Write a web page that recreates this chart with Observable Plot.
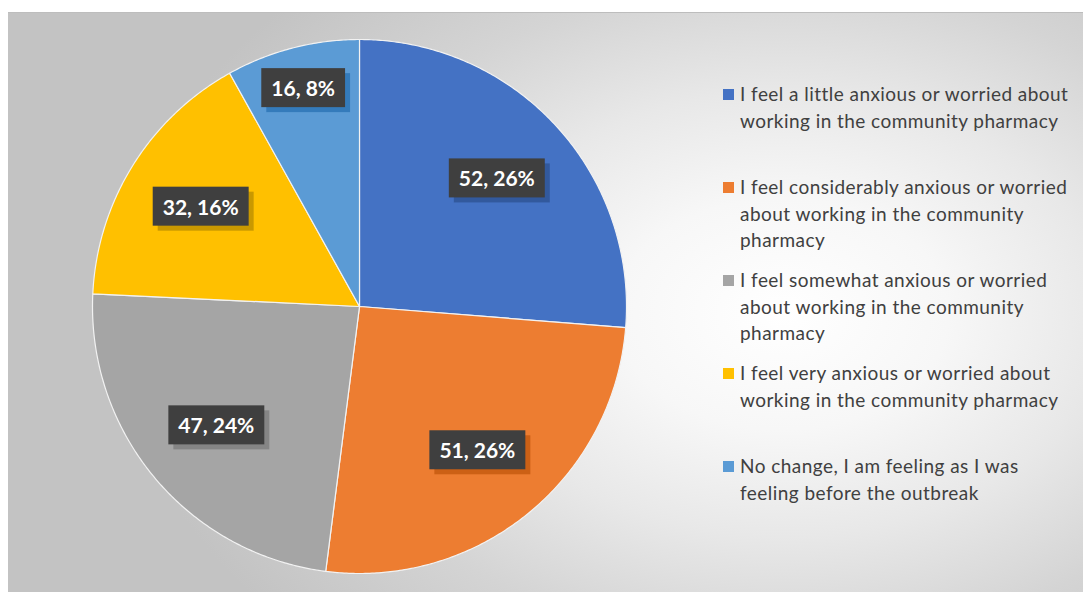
<!DOCTYPE html>
<html>
<head>
<meta charset="utf-8">
<script src="https://cdn.jsdelivr.net/npm/d3@7"></script>
<script src="https://cdn.jsdelivr.net/npm/@observablehq/plot@0.6"></script>
<style>
  html, body { margin: 0; padding: 0; background: #ffffff; }
  #wrap { position: relative; width: 1083px; height: 595px; overflow: hidden; }
  #bg { position: absolute; left: 8px; top: 12px; width: 1075px; height: 579px;
        background: radial-gradient(ellipse 62% 80% at 72% 52%, #ffffff 0%, #f7f7f7 25%, #e8e8e8 48%, #d4d4d4 72%, #c3c3c3 100%);
        border-top: 1px solid #bdbdbd; }
  #chart { position: absolute; left: 0; top: 0; }
  #legend { position: absolute; left: 723px; top: 0; font-family: Lato, "Open Sans", sans-serif;
        font-size: 19px; letter-spacing: 0.45px; color: #404040; }
  .item { position: absolute; left: 0; width: 360px; }
  .sw { position: absolute; left: 0; width: 11px; height: 11px; top: 8px; }
  .tx { position: absolute; left: 17px; line-height: 26.5px; white-space: nowrap; }
</style>
</head>
<body>
<div id="wrap">
  <div id="bg"></div>
  <div id="chart"></div>
  <div id="legend"></div>
</div>
<script>
const categories = [
  "I feel a little anxious or worried about working in the community pharmacy",
  "I feel considerably anxious or worried about working in the community pharmacy",
  "I feel somewhat anxious or worried about working in the community pharmacy",
  "I feel very anxious or worried about working in the community pharmacy",
  "No change, I am feeling as I was feeling before the outbreak"
];
const legendLines = [
  ["I feel a little anxious or worried about", "working in the community pharmacy"],
  ["I feel considerably anxious or worried", "about working in the community", "pharmacy"],
  ["I feel somewhat anxious or worried", "about working in the community", "pharmacy"],
  ["I feel very anxious or worried about", "working in the community pharmacy"],
  ["No change, I am feeling as I was", "feeling before the outbreak"]
];
const counts = [52, 51, 47, 32, 16];
const percentLabels = ["26%", "26%", "24%", "16%", "8%"];
const colors = ["#4472C4", "#ED7D31", "#A5A5A5", "#FFC000", "#5B9BD5"];
const shadowColors = ["#2f5597", "#c55a11", "#7f7f7f", "#bf9000", "#2e75b6"];

const total = d3.sum(counts);
// slice polygons (angles from 12 o'clock, clockwise) in unit-circle coordinates
const pts = [];
const labels = [];
let acc = 0;
counts.forEach((v, i) => {
  const a0 = acc / total * 2 * Math.PI;
  const a1 = (acc + v) / total * 2 * Math.PI;
  pts.push({cat: categories[i], x: 0, y: 0});
  const n = Math.max(2, Math.ceil((a1 - a0) / (Math.PI / 360)));
  for (let k = 0; k <= n; k++) {
    const a = a0 + (a1 - a0) * k / n;
    pts.push({cat: categories[i], x: Math.sin(a), y: Math.cos(a)});
  }
  const am = (a0 + a1) / 2;
  const lr = v / total < 0.1 ? 0.84 : 0.7;
  labels.push({i, x: lr * Math.sin(am), y: lr * Math.cos(am), text: `${v}, ${percentLabels[i]}`});
  acc += v;
});

const cx = 359, cy = 306, R = 267;
const plot = Plot.plot({
  width: 1083,
  height: 595,
  margin: 0,
  style: {background: "transparent", overflow: "visible"},
  x: {domain: [-1, 1], range: [cx - R, cx + R], axis: null},
  y: {domain: [-1, 1], range: [cy + R, cy - R], axis: null},
  color: {domain: categories, range: colors, legend: false},
  marks: [
    Plot.line(pts, {x: "x", y: "y", z: "cat", fill: "cat", stroke: "#f2f2f2", strokeWidth: 1.2, curve: "linear-closed"}),
    Plot.text(labels, {x: "x", y: "y", text: "text", fill: "white", fontWeight: "bold",
      fontSize: 21, fontFamily: "Lato, 'Open Sans', sans-serif", className: "pielabel"})
  ]
});
document.getElementById("chart").appendChild(plot);

// dark label boxes with drop shadow behind each label
const texts = plot.querySelectorAll(".pielabel text");
const ns = "http://www.w3.org/2000/svg";
texts.forEach((t, k) => {
  const bb = t.getBBox();
  const padX = 10, padY = 7;
  const g = t.parentNode;
  const sh = document.createElementNS(ns, "rect");
  sh.setAttribute("x", bb.x - padX + 5);
  sh.setAttribute("y", bb.y - padY + 5);
  sh.setAttribute("width", bb.width + 2 * padX);
  sh.setAttribute("height", bb.height + 2 * padY);
  sh.setAttribute("fill", shadowColors[labels[k].i]);
  sh.setAttribute("opacity", 0.85);
  const box = document.createElementNS(ns, "rect");
  box.setAttribute("x", bb.x - padX);
  box.setAttribute("y", bb.y - padY);
  box.setAttribute("width", bb.width + 2 * padX);
  box.setAttribute("height", bb.height + 2 * padY);
  box.setAttribute("fill", "#3f3f3f");
  if (t.getAttribute("transform")) {
    sh.setAttribute("transform", t.getAttribute("transform"));
    box.setAttribute("transform", t.getAttribute("transform"));
  }
  g.insertBefore(sh, t);
  g.insertBefore(box, t);
});

// legend
const legend = document.getElementById("legend");
const tops = [81, 174, 267, 360, 453];
categories.forEach((c, i) => {
  const it = document.createElement("div");
  it.className = "item";
  it.style.top = tops[i] + "px";
  const sw = document.createElement("div");
  sw.className = "sw";
  sw.style.background = colors[i];
  const tx = document.createElement("div");
  tx.className = "tx";
  tx.innerHTML = legendLines[i].join("<br>");
  it.appendChild(sw);
  it.appendChild(tx);
  legend.appendChild(it);
});
</script>
</body>
</html>
